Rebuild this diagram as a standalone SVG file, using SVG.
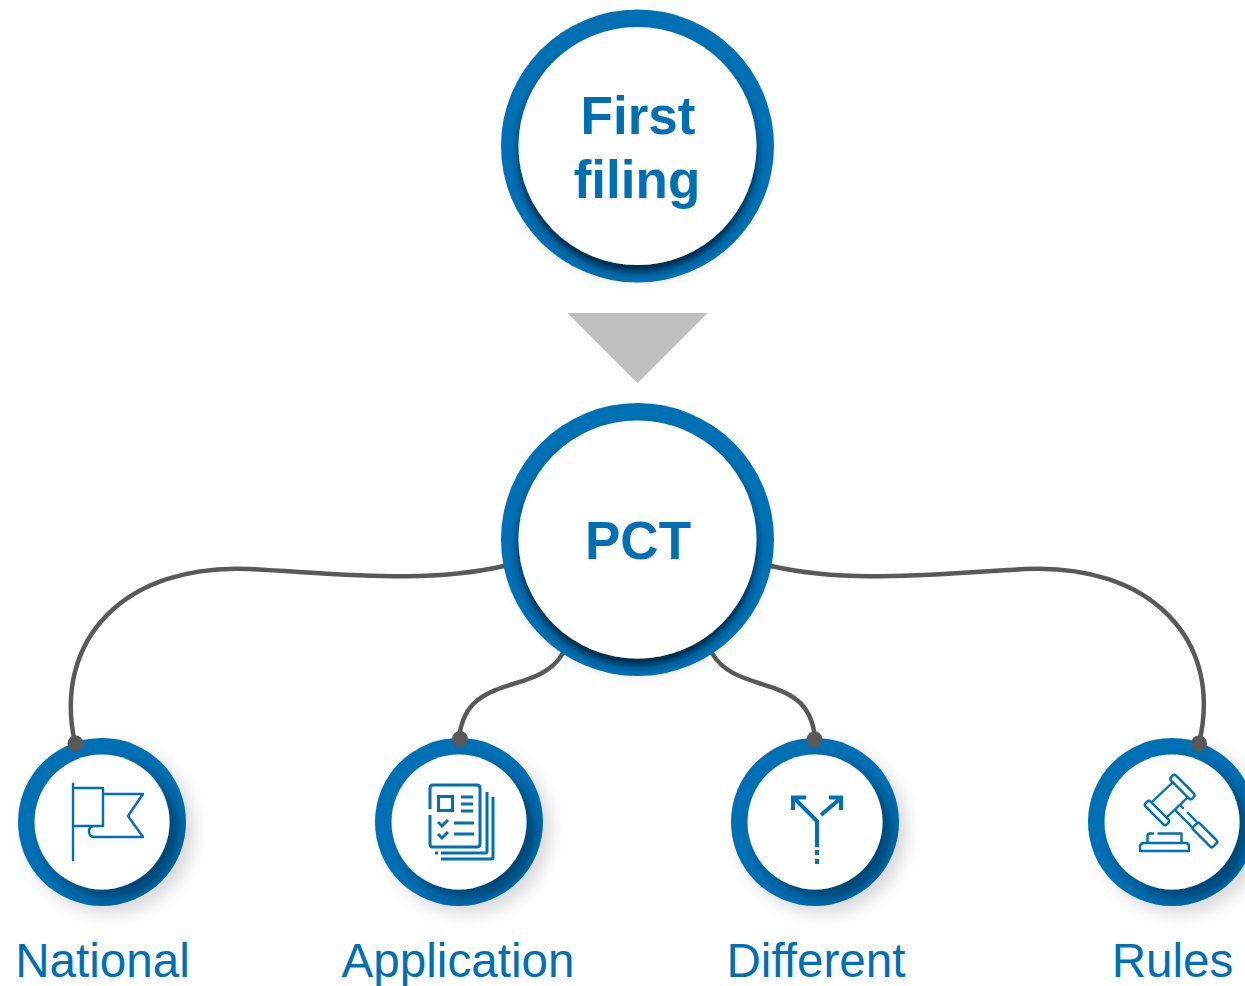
<svg xmlns="http://www.w3.org/2000/svg" width="1245" height="986" viewBox="0 0 1245 986">
<style>
.ring{fill:#006fb4}
.hole{fill:#fff}
.big{font:bold 53px "Liberation Sans",Arial,sans-serif;fill:#006fb4;text-anchor:middle}
.lbl{font:47.600px "Liberation Sans",Arial,sans-serif;fill:#006fb4;text-anchor:middle}
.conn{fill:none;stroke:#595959;stroke-width:4.500;stroke-linecap:round}
.dot{fill:#595959}
.ic{fill:none;stroke:#006fb4;stroke-width:2.400;stroke-linecap:round;stroke-linejoin:round}
.ic3{fill:none;stroke:#006fb4;stroke-width:3;stroke-linecap:butt;stroke-linejoin:miter}
</style>
<defs>
<filter id="outerS" x="-30%" y="-30%" width="170%" height="170%"><feDropShadow dx="8" dy="8" stdDeviation="8" flood-color="#000" flood-opacity="0.15"/></filter>
<filter id="outerB" x="-20%" y="-20%" width="140%" height="140%"><feDropShadow dx="0" dy="4" stdDeviation="3" flood-color="#000" flood-opacity="0.05"/></filter>
<filter id="innerB" x="-30%" y="-30%" width="160%" height="160%"><feDropShadow dx="0" dy="7" stdDeviation="4" flood-color="#001f38" flood-opacity="0.9"/></filter>
<filter id="innerS" x="-30%" y="-30%" width="170%" height="170%"><feDropShadow dx="9" dy="9" stdDeviation="7" flood-color="#00213b" flood-opacity="0.55"/></filter>
<clipPath id="cBig1"><circle cx="637.5" cy="146" r="136.5"/></clipPath>
<clipPath id="cBig2"><circle cx="637.5" cy="539.5" r="136.5"/></clipPath>
<clipPath id="cS1"><circle cx="102" cy="822" r="84"/></clipPath>
<clipPath id="cS2"><circle cx="459" cy="822" r="84"/></clipPath>
<clipPath id="cS3"><circle cx="815" cy="822" r="84"/></clipPath>
<clipPath id="cS4"><circle cx="1172" cy="822" r="84"/></clipPath>
</defs>
<g id="connectors">
<path class="conn" d="M504 566C425 584 345 574 250 569C125 563 52 640 75 743"/>
<path class="conn" d="M771 566C850 584 930 574 1025 569C1150 563 1224 640 1199 743"/>
<path class="conn" d="M563 653C538 697 465 671 459 739"/>
<path class="conn" d="M712 653C737 697 810 671 815 739"/>
</g>
<g id="first-filing">
<circle class="ring" cx="637.5" cy="146" r="136.5" filter="url(#outerB)"/>
<g clip-path="url(#cBig1)"><circle class="hole" cx="637.5" cy="146" r="119" filter="url(#innerB)"/></g>
<text class="big" x="638" y="134">First</text>
<text class="big" x="637" y="198">filing</text>
</g>
<polygon id="arrow" points="567.500,313 707.500,313 637.500,383" fill="#bfbfbf"/>
<g id="pct">
<circle class="ring" cx="637.5" cy="539.5" r="136.5" filter="url(#outerB)"/>
<g clip-path="url(#cBig2)"><circle class="hole" cx="637.5" cy="539.5" r="119" filter="url(#innerB)"/></g>
<text class="big" x="638" y="559">PCT</text>
</g>
<g id="national">
<circle class="ring" cx="102" cy="822" r="84" filter="url(#outerS)"/>
<g clip-path="url(#cS1)"><circle class="hole" cx="102" cy="822" r="67.5" filter="url(#innerS)"/></g>
<path class="ic" d="M73 784V860M73 788H103V826H73M103 794H143L128 816L143 837H95Q89 837 89 831.500Q89 826 95 826"/>
<circle class="dot" cx="75.500" cy="743.500" r="8"/>
<text class="lbl" x="102.500" y="977">National</text>
</g>
<g id="application">
<circle class="ring" cx="459" cy="822" r="84" filter="url(#outerS)"/>
<g clip-path="url(#cS2)"><circle class="hole" cx="459" cy="822" r="67.5" filter="url(#innerS)"/></g>
<g class="ic3">
<path d="M430 809V788Q430 785 433 785H477Q480 785 480 788V844Q480 847 477 847H433Q430 847 430 844V815"/>
<rect x="438.500" y="796.500" width="14" height="14"/>
<path d="M461 797H473M461 804H473M461 811H473M454 823H474M454 834H474M438 822L442 826L448 820M438 834L442 838L448 832"/>
<path d="M487 792V851Q487 853 485 853H441M493 797V858Q493 859 491 859H441M435 853H438"/>
</g>
<circle class="dot" cx="460" cy="739" r="8"/>
<text class="lbl" x="458" y="977">Application</text>
</g>
<g id="different">
<circle class="ring" cx="815" cy="822" r="84" filter="url(#outerS)"/>
<g clip-path="url(#cS3)"><circle class="hole" cx="815" cy="822" r="67.5" filter="url(#innerS)"/></g>
<g class="ic3">
<path stroke-width="4" d="M793 810V797.500H806M794 798L817 821V847M821 815L841 798M829 797.500H841V810"/>
<path stroke-width="4" d="M817 850V855M817 859V864"/>
</g>
<circle class="dot" cx="814.500" cy="739.500" r="8"/>
<text class="lbl" x="816" y="977">Different</text>
</g>
<g id="rules">
<circle class="ring" cx="1172" cy="822" r="84" filter="url(#outerS)"/>
<g clip-path="url(#cS4)"><circle class="hole" cx="1172" cy="822" r="67.5" filter="url(#innerS)"/></g>
<g class="ic">
<rect x="-15" y="-3.500" width="30" height="7" rx="2.500" transform="translate(1182.500 787) rotate(45)"/>
<rect x="-15" y="-3.500" width="30" height="7" rx="2.500" transform="translate(1157 813) rotate(45)"/>
<path d="M1153 801L1172 783M1167 817L1187 798"/>
<path d="M1175 810L1192 827M1188 813L1196 821M1181 806L1183 808"/>
<rect x="-14" y="-4.500" width="28" height="9" rx="2" transform="translate(1205 835) rotate(45)"/>
<path d="M1147.500 842V836Q1147.500 833.500 1150 833.500H1153M1158.500 833.500H1181.500V842M1140 851V847Q1140 843 1144 843H1186Q1189 843 1189 847V851H1140Z"/>
</g>
<circle class="dot" cx="1199" cy="743.500" r="8"/>
<text class="lbl" x="1172.500" y="977">Rules</text>
</g>
</svg>
